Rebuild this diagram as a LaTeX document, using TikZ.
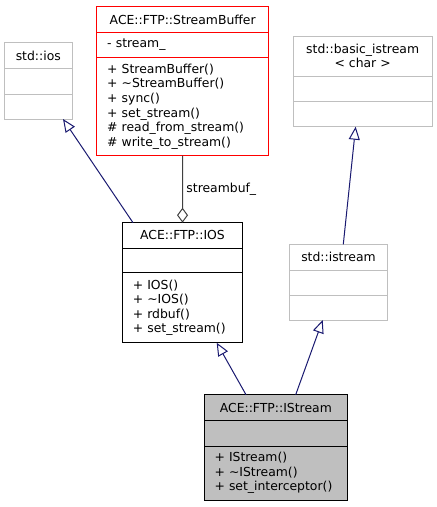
\documentclass[tikz,border=0pt]{standalone}
\usepackage{fontspec}
\setmainfont{DejaVu Sans}
\usetikzlibrary{arrows.meta,positioning}

\definecolor{edgeblue}{HTML}{191970}
\definecolor{extgray}{HTML}{BFBFBF}
\definecolor{linkgray}{HTML}{404040}

\tikzset{
  umlfont/.style={font=\fontsize{12.4}{14.6}\selectfont},
  part/.style 2 args={draw, line width=1pt, outer sep=0pt, inner sep=0pt, minimum width=#1, minimum height=#2, umlfont},
  title/.style 2 args={part={#1}{#2}, anchor=north west, align=center},
  members/.style 2 args={draw, line width=1pt, outer sep=0pt, inner xsep=10.5pt, inner ysep=0pt, text width=#1, minimum height=#2, align=left, umlfont},
  extclass/.style={draw=extgray},
  bufclass/.style={draw=red},
  plainclass/.style={draw=black},
  mainclass/.style={draw=black, fill=extgray},
  inherit/.style={edgeblue, line width=1pt, -{Triangle[open,length=13pt,width=11pt]}},
  usage/.style={linkgray, line width=1pt, -{Diamond[open,length=15pt,width=11pt]}}
}

\begin{document}
\begin{tikzpicture}[x=1pt,y=-1pt]

\useasboundingbox (0,0) rectangle (437,507);

\node [title={68pt}{26pt}, extclass] (stdIos) at (4.3,42.7) {std::ios};
\node [part={68pt}{25.3pt}, extclass, below=0pt of stdIos] (stdIosAttr) {};
\node [part={68pt}{25pt}, extclass, below=0pt of stdIosAttr] (stdIosOps) {};

\node [title={172pt}{25.6pt}, bufclass] (ftpBuf) at (96.7,6.7) {ACE::FTP::StreamBuffer};
\node [members={151pt}{25pt}, bufclass, below=0pt of ftpBuf] (ftpBufAttr) {- stream\_};
\node [members={151pt}{98.4pt}, bufclass, below=0pt of ftpBufAttr] (ftpBufOps) {+ StreamBuffer()\\+ \textasciitilde StreamBuffer()\\+ sync()\\+ set\_stream()\\\# read\_from\_stream()\\\# write\_to\_stream()};

\node [title={138.7pt}{40pt}, extclass] (basicIs) at (293.3,36) {std::basic\_istream\\< char >};
\node [part={138.7pt}{25pt}, extclass, below=0pt of basicIs] (basicIsAttr) {};
\node [part={138.7pt}{25.7pt}, extclass, below=0pt of basicIsAttr] (basicIsOps) {};

\node [title={120.4pt}{25.3pt}, plainclass] (ftpIos) at (122.3,222.7) {ACE::FTP::IOS};
\node [part={120.4pt}{24.7pt}, plainclass, below=0pt of ftpIos] (ftpIosAttr) {};
\node [members={99.4pt}{70pt}, plainclass, below=0pt of ftpIosAttr] (ftpIosOps) {+ IOS()\\+ \textasciitilde IOS()\\+ rdbuf()\\+ set\_stream()};

\node [title={98.4pt}{25.7pt}, extclass] (stdIs) at (289.3,244.3) {std::istream};
\node [part={98.4pt}{25.7pt}, extclass, below=0pt of stdIs] (stdIsAttr) {};
\node [part={98.4pt}{24.3pt}, extclass, below=0pt of stdIsAttr] (stdIsOps) {};

\node [title={143.7pt}{26pt}, mainclass] (ftpIs) at (204,394.7) {ACE::FTP::IStream};
\node [part={143.7pt}{25.3pt}, mainclass, below=0pt of ftpIs] (ftpIsAttr) {};
\node [members={122.7pt}{54pt}, mainclass, below=0pt of ftpIsAttr] (ftpIsOps) {+ IStream()\\+ \textasciitilde IStream()\\+ set\_interceptor()};

\draw [inherit] ([xshift=-49.5pt]ftpIos.north) -- ([xshift=24.7pt]stdIosOps.south);
\draw [usage] (ftpBufOps.south) -- node [right,black,umlfont] (bufLabel) {streambuf\_} (ftpIos.north);
\draw [inherit] ([xshift=4.8pt]stdIs.north) -- ([xshift=-7pt]basicIsOps.south);
\draw [inherit] ([xshift=-29.85pt]ftpIs.north) -- ([xshift=34.2pt]ftpIosOps.south);
\draw [inherit] ([xshift=19.85pt]ftpIs.north) -- ([xshift=-15.8pt]stdIsOps.south);

\end{tikzpicture}
\end{document}
